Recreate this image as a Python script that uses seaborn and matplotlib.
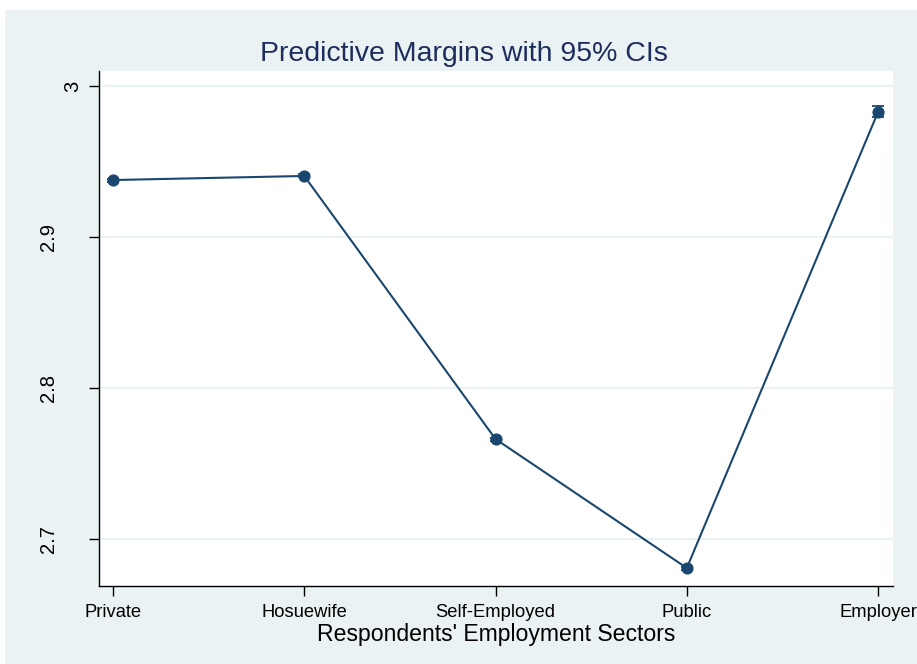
import numpy as np
import pandas as pd

import matplotlib.pyplot as plt
import seaborn as sns
from matplotlib.patches import Rectangle

sectors = ["Private", "Hosuewife", "Self-Employed", "Public", "Employer"]
margins = [2.9377, 2.9404, 2.7662, 2.6808, 2.9828]
ci_low = [2.9367, 2.9394, 2.7652, 2.6798, 2.9792]
ci_high = [2.9387, 2.9414, 2.7672, 2.6818, 2.9864]
ytick_vals = [2.7, 2.8, 2.9, 3.0]
ytick_labels = ["2.7", "2.8", "2.9", "3"]

navy = "#1A476F"
bg = "#EAF2F3"

df = pd.DataFrame({"pos": np.arange(len(sectors)), "margin": margins})

sns.set_style("white")
plt.rcParams["font.family"] = ["Liberation Sans", "DejaVu Sans"]

fig = plt.figure(figsize=(9.17, 6.64), dpi=100)
fig.patch.set_facecolor("white")
fig.patches.append(Rectangle((5 / 917, 0), 1, 654 / 664, transform=fig.transFigure,
                             facecolor=bg, edgecolor="none", zorder=-1))

ax = fig.add_axes([99 / 917, 78 / 664, 794 / 917, 515 / 664])
ax.set_facecolor("white")

# confidence intervals
err = [np.array(margins) - np.array(ci_low), np.array(ci_high) - np.array(margins)]
ax.errorbar(df["pos"], df["margin"], yerr=err, fmt="none", ecolor=navy,
            elinewidth=1.3, capsize=4, capthick=1.3, zorder=3)

sns.lineplot(data=df, x="pos", y="margin", color=navy, linewidth=1.5,
             marker="o", markersize=8, markeredgecolor=navy, ax=ax, zorder=4)

ax.set_xlim(-0.073, 4.078)
ax.set_ylim(2.6689, 3.0099)
ax.set_xticks(df["pos"])
ax.set_xticklabels(sectors, fontsize=13.2)
ax.set_yticks(ytick_vals)
ax.set_yticklabels(ytick_labels, fontsize=14.5, rotation=90, va="center")
ax.yaxis.grid(True, color=bg, linewidth=1.6)
ax.set_axisbelow(True)

for s in ["top", "right"]:
    ax.spines[s].set_visible(False)
for s in ["left", "bottom"]:
    ax.spines[s].set_color("black")
    ax.spines[s].set_linewidth(1.0)
ax.tick_params(axis="both", direction="out", length=7.2, width=1, color="black",
               labelcolor="black", bottom=True, left=True)
ax.tick_params(axis="x", pad=5.5)

# stata puts the short "3" closer to the axis than the longer labels
for tick, lab in zip(ax.yaxis.get_major_ticks(), ytick_labels):
    tick.set_pad(5 if len(lab) == 1 else 22)

ax.set_xlabel("Respondents' Employment Sectors", fontsize=16.6, labelpad=1.5, color="black")
ax.set_ylabel("")

fig.text(464 / 917, (664 - 54) / 664, "Predictive Margins with 95% CIs",
         ha="center", va="center", fontsize=20.5, color="#1E2D5C")

fig.savefig("out.png", dpi=100, facecolor=fig.get_facecolor())
